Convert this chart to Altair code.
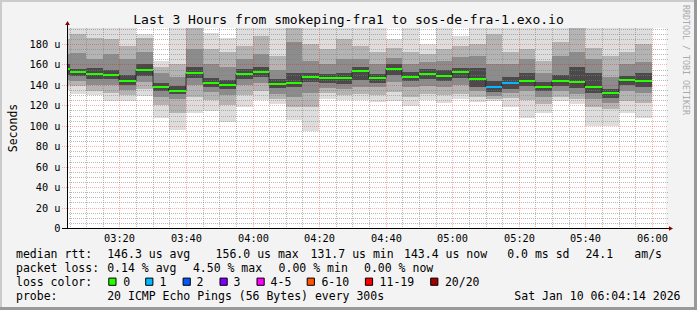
import altair as alt
import pandas as pd

# ---------------- data ----------------
times = ["03:00", "03:05", "03:10", "03:15", "03:20", "03:25", "03:30", "03:35", "03:40",
         "03:45", "03:50", "03:55", "04:00", "04:05", "04:10", "04:15", "04:20", "04:25",
         "04:30", "04:35", "04:40", "04:45", "04:50", "04:55", "05:00", "05:05", "05:10",
         "05:15", "05:20", "05:25", "05:30", "05:35", "05:40", "05:45", "05:50", "05:55"]

median = [155.5, 153.1, 151.1, 149.7, 144.1, 154.9, 138.0, 134.3, 152.0, 142.2, 139.9, 151.0,
          152.9, 140.9, 142.2, 147.7, 146.7, 146.9, 153.6, 146.7, 156.0, 148.0, 151.0, 149.0,
          152.3, 145.8, 138.2, 142.2, 144.1, 138.2, 144.1, 142.5, 138.2, 131.7, 144.8, 143.4]

loss = [0, 0, 0, 0, 0, 0, 0, 0, 0, 0, 0, 0, 0, 0, 0, 0, 0, 0,
        0, 0, 0, 0, 0, 0, 0, 0, 1, 1, 0, 0, 0, 0, 0, 0, 0, 0]

ping_min = [135, 131, 130, 124, 124, 129, 108, 96, 113, 114, 104, 118, 125, 121, 106, 95, 126, 125,
            125, 123, 124, 119, 125, 122, 126, 123, 124, 118, 108, 113, 124, 121, 100, 100, 113, 108]
b2_lo = [140, 139, 134, 132, 130, 136, 120, 113, 128, 125, 120, 130, 134, 126, 118, 118, 132, 130,
         131, 130, 133, 128, 131, 130, 131, 128, 126, 127, 125, 121, 128, 126, 118, 116, 124, 122]
b3_lo = [145, 144, 140, 140, 135, 143, 128, 126, 140, 133, 130, 140, 142, 131, 128, 132, 137, 136,
         138, 138, 143, 138, 139, 138, 140, 134, 129, 132, 134, 128, 134, 131, 126, 122, 134, 132]
b4_lo = [150, 149, 146, 146, 140, 149, 134, 131, 147, 138, 136, 146, 148, 137, 138, 143, 142, 141,
         145, 142, 150, 144, 146, 144, 147, 138, 133, 136, 139, 134, 139, 137, 132, 127, 140, 138]
b4_hi = [160, 156, 157, 155, 150, 160, 142, 139, 158, 147, 145, 156, 158, 146, 152, 152, 151, 152,
         158, 151, 160, 153, 156, 155, 157, 157, 144, 148, 152, 143, 150, 158, 152, 136, 149, 152]
b3_hi = [170, 171, 165, 170, 165, 172, 152, 148, 175, 160, 158, 165, 170, 155, 182, 163, 160, 165,
         165, 160, 166, 160, 162, 163, 167, 168, 160, 160, 165, 152, 168, 172, 165, 148, 160, 162]
b2_hi = [185, 190, 186, 185, 178, 186, 158, 160, 196, 175, 172, 178, 188, 168, 196, 180, 175, 185,
         178, 172, 176, 172, 170, 175, 178, 180, 190, 172, 175, 163, 182, 196, 176, 168, 172, 180]
ping_max = [196, 196, 196, 196, 196, 190, 163, 196, 196, 191, 186, 196, 196, 196, 196, 196, 196, 196,
            196, 196, 185, 196, 180, 196, 188, 196, 196, 196, 196, 196, 196, 196, 196, 196, 196, 196]

y_ticks = [0, 20, 40, 60, 80, 100, 120, 140, 160, 180]
x_tick_labels = ["03:20", "03:40", "04:00", "04:20", "04:40", "05:00", "05:20", "05:40", "06:00"]

loss_labels = ["0", "1", "2", "3", "4-5", "6-10", "11-19", "20/20"]
loss_colors = ["#26ff00", "#00b8ff", "#0059ff", "#7e00ff", "#ff00ff", "#ff5500", "#ff0000", "#a10000"]

title_text = "Last 3 Hours from smokeping-fra1 to sos-de-fra-1.exo.io"

# ---------------- layout ----------------
W, H = 599, 200
PL, PT = 67, 28
MONO = "DejaVu Sans Mono"


def to_min(t):
    h, m = t.split(":")
    return int(h) * 60 + int(m)


X_DOMAIN = [184 + 14 / 60, 364 + 14 / 60]   # 03:04:14 .. 06:04:14
Y_DOMAIN = [0, 195.7]

start = [to_min(t) for t in times]
end = [s + 5 for s in start]

xs = alt.Scale(domain=X_DOMAIN, nice=False, zero=False, round=True)
ys = alt.Scale(domain=Y_DOMAIN, nice=False, zero=False, round=True)

x_label_expr = ("(datum.value < 600 ? '0' : '') + floor(datum.value / 60) + ':' + "
                "(datum.value % 60 < 10 ? '0' : '') + (datum.value % 60)")
y_label_expr = "datum.value == 0 ? '0\u00a0' : datum.value + ' u'"

X_AXIS = alt.Axis(values=[to_min(t) for t in x_tick_labels], labelExpr=x_label_expr,
                  grid=False, domain=False, ticks=False, labelFont=MONO, labelFontSize=10.3,
                  labelColor="#000", labelPadding=5, title=None, labelFlush=False)
Y_AXIS = alt.Axis(values=y_ticks, labelExpr=y_label_expr, grid=False, domain=False, ticks=False,
                  labelFont=MONO, labelFontSize=10.3, labelColor="#000", labelPadding=7,
                  title=None, labelFlush=False)


def X(f):
    return alt.X(f, scale=xs, axis=X_AXIS, title=None)


def Y(f):
    return alt.Y(f, scale=ys, axis=Y_AXIS, title=None)


bands = [
    (ping_min, ping_max, "#dddddd"),
    (b2_lo, b2_hi, "#b4b4b4"),
    (b3_lo, b3_hi, "#8c8c8c"),
    (b4_lo, b4_hi, "#4a4a4a"),
]

layers = []
for lo, hi, col in bands:
    df = pd.DataFrame({"start": start, "end": end, "lo": lo, "hi": hi})
    layers.append(alt.Chart(df).mark_rect(color=col, clip=True).encode(
        x=X("start:Q"), x2="end:Q", y=Y("lo:Q"), y2="hi:Q"))

# grid lines (drawn on top of the smoke, like rrdtool)
minor_y = [v for v in range(5, 196, 5) if v % 20 != 0]
major_y = [v for v in range(20, 181, 20)]
minor_x = [v for v in range(185, 361, 5) if v % 20 != 0]
major_x = [v for v in range(200, 361, 20)]

layers.append(alt.Chart(pd.DataFrame({"v": minor_y})).mark_rule(
    color="#808080", opacity=0.55, strokeDash=[1, 1], strokeWidth=1, yOffset=0.5).encode(
    y=Y("v:Q"), x=alt.value(0), x2=alt.value(W + 2)))
layers.append(alt.Chart(pd.DataFrame({"v": minor_x})).mark_rule(
    color="#808080", opacity=0.55, strokeDash=[1, 1], strokeWidth=1, xOffset=0.5).encode(
    x=X("v:Q"), y=alt.value(0), y2=alt.value(H)))
layers.append(alt.Chart(pd.DataFrame({"v": major_y})).mark_rule(
    color="#ff0000", opacity=0.3, strokeDash=[1, 1], strokeWidth=1, yOffset=0.5).encode(
    y=Y("v:Q"), x=alt.value(-5), x2=alt.value(W + 2)))
layers.append(alt.Chart(pd.DataFrame({"v": major_x})).mark_rule(
    color="#ff0000", opacity=0.3, strokeDash=[1, 1], strokeWidth=1, xOffset=0.5).encode(
    x=X("v:Q"), y=alt.value(0), y2=alt.value(H)))

# median: dark step connector + coloured segments
step_df = pd.DataFrame({"t": start + [end[-1]], "m": median + [median[-1]]})
layers.append(alt.Chart(step_df).mark_line(
    interpolate="step-after", color="#000000", strokeWidth=1, opacity=0.6, clip=True).encode(
    x=X("t:Q"), y=Y("m:Q")))

med_df = pd.DataFrame({"start": start, "end": end, "m": median,
                       "loss": [loss_labels[l] if l < 4 else loss_labels[4] for l in loss]})
layers.append(alt.Chart(med_df).mark_rule(strokeWidth=2, clip=True).encode(
    x=X("start:Q"), x2="end:Q", y=Y("m:Q"),
    color=alt.Color("loss:N", scale=alt.Scale(domain=loss_labels, range=loss_colors), legend=None)))

# axes lines and arrows
one = pd.DataFrame({"a": [0]})
layers.append(alt.Chart(one).mark_rule(color="#000", strokeWidth=1).encode(
    x=alt.value(-5), x2=alt.value(W + 4), y=alt.value(H + 0.5)))
layers.append(alt.Chart(one).mark_rule(color="#000", strokeWidth=1).encode(
    x=alt.value(0.5), y=alt.value(H + 0.5), y2=alt.value(-4)))
layers.append(alt.Chart(one).mark_point(shape="triangle-up", filled=True, color="#8b0000",
                                         size=22, opacity=1).encode(
    x=alt.value(0.5), y=alt.value(-5)))
layers.append(alt.Chart(one).mark_point(shape="triangle-right", filled=True, color="#8b0000",
                                         size=22, opacity=1).encode(
    x=alt.value(W + 5), y=alt.value(H + 0.5)))

# frame
layers.append(alt.Chart(one).mark_rule(color="#cbcbcb", strokeWidth=2).encode(
    x=alt.value(-PL), x2=alt.value(697 - PL), y=alt.value(1 - PT)))
layers.append(alt.Chart(one).mark_rule(color="#cbcbcb", strokeWidth=2).encode(
    x=alt.value(1 - PL), y=alt.value(-PT), y2=alt.value(310 - PT)))
layers.append(alt.Chart(one).mark_rule(color="#999999", strokeWidth=3).encode(
    x=alt.value(-PL), x2=alt.value(697 - PL), y=alt.value(308.5 - PT)))
layers.append(alt.Chart(one).mark_rule(color="#999999", strokeWidth=3).encode(
    x=alt.value(695.5 - PL), y=alt.value(-PT), y2=alt.value(310 - PT)))

# texts (positions in canvas pixels)
texts = [
    (title_text, 348.5, 23.5, "center", 13.0, 0, "#000"),
    ("Seconds", 13.5, 128, "center", 11.5, 270, "#000"),
    ("RRDTOOL / TOBI OETIKER", 685, 60, "center", 8.3, 90, "#aaaaaa"),
    ("median rtt:", 16, 257.5, "left", 11.5, 0, "#000"),
    ("146.3 us avg", 107.2, 257.5, "left", 11.5, 0, "#000"),
    ("156.0 us max", 215.6, 257.5, "left", 11.5, 0, "#000"),
    ("131.7 us min", 310.6, 257.5, "left", 11.5, 0, "#000"),
    ("143.4 us now", 404, 257.5, "left", 11.5, 0, "#000"),
    ("0.0 ms sd", 507.2, 257.5, "left", 11.5, 0, "#000"),
    ("24.1", 585.4, 257.5, "left", 11.5, 0, "#000"),
    ("am/s", 634.3, 257.5, "left", 11.5, 0, "#000"),
    ("packet loss:", 16, 271.5, "left", 11.5, 0, "#000"),
    ("0.14 % avg", 107.2, 271.5, "left", 11.5, 0, "#000"),
    ("4.50 % max", 192.9, 271.5, "left", 11.5, 0, "#000"),
    ("0.00 % min", 278.6, 271.5, "left", 11.5, 0, "#000"),
    ("0.00 % now", 364, 271.5, "left", 11.5, 0, "#000"),
    ("loss color:", 16, 285.5, "left", 11.5, 0, "#000"),
    ("probe:", 16, 299.5, "left", 11.5, 0, "#000"),
    ("20 ICMP Echo Pings (56 Bytes) every 300s", 107.2, 299.5, "left", 11.5, 0, "#000"),
    ("Sat Jan 10 06:04:14 2026", 680.5, 299.5, "right", 11.5, 0, "#000"),
]
label_x = [123.2, 159.6, 196.6, 233.6, 270.6, 321.4, 379.6, 444.9]
for lbl, lx in zip(loss_labels, label_x):
    texts.append((lbl, lx, 285.5, "left", 11.5, 0, "#000"))

for (t, x, y, al, fs, ang, col) in texts:
    base = "middle" if ang else "alphabetic"
    layers.append(alt.Chart(one).mark_text(
        text=t, font=MONO, fontSize=fs, align=al, baseline=base, angle=ang, color=col).encode(
        x=alt.value(x - PL), y=alt.value(y - PT)))

sq_x = [112.4, 149.3, 186.7, 223.6, 260.6, 310.8, 369.0, 434.3]
sq_df = pd.DataFrame({"px": [v - PL for v in sq_x], "lbl": loss_labels})
layers.append(alt.Chart(sq_df).mark_point(shape="square", filled=True, size=52,
                                           stroke="#000", strokeWidth=1, opacity=1).encode(
    x=alt.X("px:Q", scale=None), y=alt.value(281.7 - PT),
    fill=alt.Fill("lbl:N", scale=alt.Scale(domain=loss_labels, range=loss_colors), legend=None)))

chart = alt.layer(*layers).properties(
    width=W, height=H, background="#f3f3f3",
    padding={"left": PL, "top": PT, "right": 697 - PL - W, "bottom": 310 - PT - H},
    autosize=alt.AutoSizeParams(type="none"),
).configure_view(strokeWidth=0, fill="#ffffff")

chart.save("out.html", embed_options={"renderer": "svg", "actions": False})
